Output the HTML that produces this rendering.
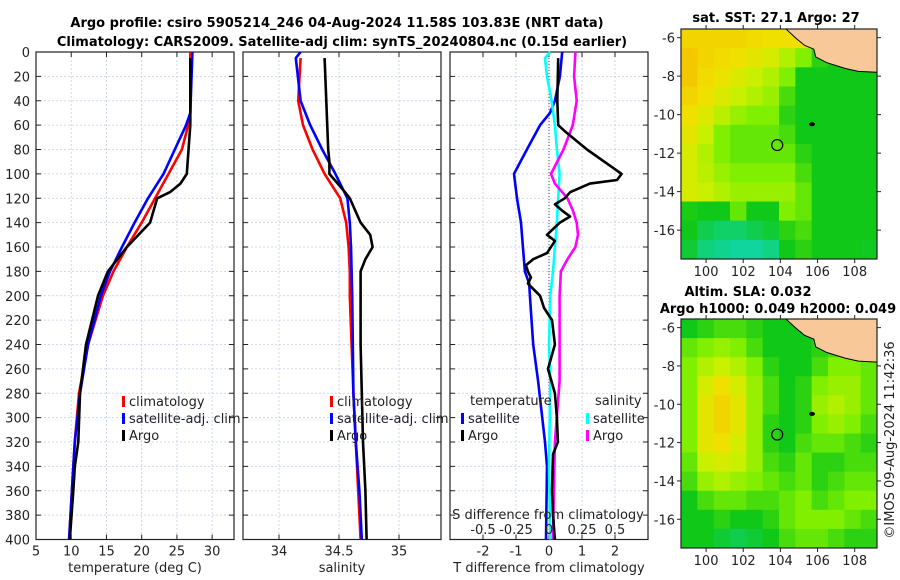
<!DOCTYPE html>
<html><head><meta charset="utf-8"><style>
body{margin:0;background:#fff;}
svg{display:block;font-family:"DejaVu Sans","Liberation Sans",sans-serif;}
.t{font-size:13px;fill:#222;}
.b{font-size:13px;font-weight:bold;fill:#000;}
</style></head><body>
<svg id="fig" width="900" height="580" viewBox="0 0 900 580">
<text class="b" x="337" y="27" text-anchor="middle">Argo profile: csiro 5905214_246 04-Aug-2024 11.58S 103.83E (NRT data)</text>
<text class="b" x="342" y="46" text-anchor="middle">Climatology: CARS2009. Satellite-adj clim: synTS_20240804.nc (0.15d earlier)</text>
<text class="b" x="776" y="22" text-anchor="middle">sat. SST: 27.1 Argo: 27</text>
<text class="b" x="748" y="296" text-anchor="middle">Altim. SLA: 0.032</text>
<text class="b" x="778" y="313" text-anchor="middle">Argo h1000: 0.049 h2000: 0.049</text>
<text class="t" transform="translate(894,440) rotate(-90)" text-anchor="middle">©IMOS 09-Aug-2024 11:42:36</text>
<g id="plots"></g>
</svg>
<script>
// ---- data ----
const depthTicks=[0,20,40,60,80,100,120,140,160,180,200,220,240,260,280,300,320,340,360,380,400];
const tTicks=[5,10,15,20,25,30];
const sTicks=[34,34.5,35];
const dtTicks=[-2,-1,0,1,2];
const dsTicks=[-0.5,-0.25,0,0.25,0.5];
const dsTickLabels=["-0.5","-0.25","0","0.25","0.5"];
const argoTD=[5,60,100,108,115,120,140,160,180,200,240,280,320,340,360,400];
const argoT=[26.9,26.9,26.4,25.5,24,22.2,21.2,17.9,15.2,13.8,12.1,11.25,11,10.5,10.3,9.8];
const climTD=[0,50,60,80,100,120,140,160,180,200,240,280,320,360,400];
const climT=[26.9,26.9,26.6,25.7,23.8,21.9,20,17.9,16,14.5,12.4,11.1,10.5,10.1,9.7];
const satT=[27.2,26.9,26.3,24.7,23.1,20.9,19,17.2,15.5,14.2,12.4,11.25,10.5,10.1,9.7];
const argoSD=[5,80,90,100,108,115,120,140,150,160,170,180,200,240,280,320,360,400];
const argoS=[34.38,34.41,34.42,34.42,34.49,34.55,34.59,34.68,34.76,34.78,34.72,34.68,34.68,34.68,34.69,34.7,34.72,34.73];
const climSD=[5,40,60,80,100,120,140,160,180,200,280,320,360,400];
const climS=[34.18,34.16,34.2,34.28,34.38,34.51,34.56,34.58,34.59,34.59,34.62,34.64,34.66,34.68];
const satSD=[0,5,40,60,80,100,120,140,160,200,280,320,360,400];
const satS=[34.18,34.14,34.18,34.26,34.36,34.47,34.57,34.59,34.6,34.61,34.62,34.64,34.67,34.69];
const dSatTD=[0,20,40,50,60,80,100,120,140,160,180,190,200,240,270,320,340,400];
const dSatT=[0.4,0.33,0.18,0.03,-0.27,-0.67,-1.06,-0.97,-0.85,-0.79,-0.73,-0.6,-0.58,-0.48,-0.33,-0.12,-0.06,-0.09];
const dArgoTD=[5,40,60,65,80,95,100,105,108,115,120,125,130,135,140,150,155,165,170,175,180,185,190,200,210,220,240,260,280,300,320,330,360,380,400];
const dArgoT=[0.28,0.25,0.28,0.48,1.15,1.94,2.2,2.06,1.24,0.64,0.48,0.18,0.39,0.64,0.33,-0.06,0.18,-0.06,-0.48,-0.7,-0.64,-0.55,-0.64,-0.27,-0.15,0.09,0.18,-0.03,0.18,0.24,0.27,0.12,0.09,0.12,0.18];
const dSatSD=[0,5,20,40,60,80,100,120,140,160,180,200,240,270,340,400];
const dSatS=[0.01,-0.03,-0.015,0.02,0.045,0.06,0.08,0.07,0.06,0.045,0.03,0.01,0,0.01,0,0.01];
const dArgoSD=[0,20,40,60,80,100,108,120,130,140,150,160,170,180,200,240,270,320,400];
const dArgoS=[0.2,0.19,0.21,0.18,0.11,0.015,0.045,0.14,0.18,0.21,0.22,0.2,0.14,0.09,0.08,0.08,0.08,0.045,0.03];
const lonTicks=[100,102,104,106,108];
const latTicks=[-6,-8,-10,-12,-14,-16];
const sstGrid=[
[.85,.85,.85,.85,.82,.8,.8,.8,.85,.85,.9,.9],
[.9,.85,.82,.8,.75,.7,.6,.5,.35,.3,.3,.3],
[.9,.82,.78,.72,.65,.6,.5,.3,.3,.3,.3,.3],
[.85,.8,.72,.65,.6,.55,.4,.3,.3,.3,.3,.3],
[.8,.72,.62,.55,.5,.5,.35,.3,.3,.3,.3,.3],
[.75,.65,.5,.45,.45,.45,.4,.3,.3,.3,.3,.3],
[.7,.6,.5,.45,.45,.45,.45,.35,.3,.3,.3,.3],
[.7,.62,.55,.5,.5,.5,.5,.4,.3,.3,.3,.3],
[.7,.65,.6,.55,.55,.55,.55,.45,.3,.3,.3,.3],
[.32,.3,.3,.45,.3,.3,.5,.45,.3,.3,.3,.3],
[.3,.2,.15,.15,.2,.25,.35,.4,.3,.3,.3,.3],
[.25,.12,.08,.05,.05,.1,.3,.35,.3,.3,.3,.28]];
const slaGrid=[
[.3,.35,.4,.4,.35,.3,.3,.3,.3,.3,.3,.3],
[.45,.5,.55,.5,.4,.3,.3,.3,.35,.4,.4,.35],
[.5,.6,.65,.6,.5,.35,.3,.3,.4,.5,.5,.45],
[.5,.7,.8,.7,.55,.4,.3,.35,.5,.55,.55,.45],
[.5,.75,.85,.75,.55,.4,.3,.35,.55,.6,.55,.45],
[.5,.75,.85,.75,.55,.35,.3,.35,.5,.55,.5,.4],
[.5,.75,.8,.7,.55,.35,.3,.4,.45,.45,.4,.35],
[.45,.65,.7,.65,.55,.4,.35,.45,.35,.35,.4,.4],
[.4,.55,.6,.55,.5,.45,.4,.45,.35,.4,.45,.45],
[.3,.4,.45,.45,.4,.4,.45,.5,.4,.45,.5,.5],
[.3,.3,.35,.3,.3,.35,.45,.5,.5,.5,.45,.4],
[.3,.3,.25,.2,.25,.3,.4,.45,.45,.4,.35,.35]];
const landLon=[104.3,104.8,105.3,105.8,105.9,106.5,107.5,108.2,109.2,109.2];
const landLat=[-5.55,-6.0,-6.4,-6.6,-7.0,-7.3,-7.6,-7.75,-7.8,-5.55];
const argoLon=103.83, argoLat=-11.58;
const islandLon=105.7, islandLat=-10.5;

// ---- drawing ----
const NS="http://www.w3.org/2000/svg";
const root=document.getElementById('plots');
function mk(tag,attrs,parent){const e=document.createElementNS(NS,tag);for(const k in attrs)e.setAttribute(k,attrs[k]);(parent||root).appendChild(e);return e;}
const Y0=52,Y1=539.5;
const yD=d=>Y0+d/400*(Y1-Y0);
function panel(name,x0,x1,xmin,xmax,ticks,labels,xlabel){
  const xs=v=>x0+(v-xmin)/(xmax-xmin)*(x1-x0);
  const g=mk('g',{});
  
  
  depthTicks.forEach(d=>{const l=mk('line',{x1:x0,x2:x1,y1:yD(d),y2:yD(d),stroke:'#c4cdea','stroke-width':0.8,'stroke-dasharray':'2,2'},g);
    
    mk('line',{x1:x0,x2:x0+5,y1:yD(d),y2:yD(d),stroke:'#222'},g);mk('line',{x1:x1-5,x2:x1,y1:yD(d),y2:yD(d),stroke:'#222'},g);});
  ticks.forEach((v,i)=>{const l=mk('line',{x1:xs(v),x2:xs(v),y1:Y0,y2:Y1,stroke:'#c4cdea','stroke-width':0.8,'stroke-dasharray':'2,2'},g);
    
    mk('line',{x1:xs(v),x2:xs(v),y1:Y1,y2:Y1-5,stroke:'#222'},g);mk('line',{x1:xs(v),x2:xs(v),y1:Y0,y2:Y0+5,stroke:'#222'},g);
    if(labels){const t=mk('text',{x:xs(v),y:Y1+16,'text-anchor':'middle',class:'t'},g);t.textContent=labels[i];
      }});
  const r=mk('rect',{x:x0,y:Y0,width:x1-x0,height:Y1-Y0,fill:'none',stroke:'#222','stroke-width':1.2},g);
  
  if(xlabel){const t=mk('text',{x:(x0+x1)/2,y:572,'text-anchor':'middle',class:'t'},g);t.textContent=xlabel;
    }
  return {xs,g};
}
function line(p,vals,depths,color,name,w){
  const pts=vals.map((v,i)=>p.xs(v).toFixed(1)+','+yD(depths[i]).toFixed(1)).join(' ');
  const e=mk('polyline',{points:pts,fill:'none',stroke:color,'stroke-width':w||2.6,'stroke-linejoin':'round'},p.g);
  
  
}
function legend(g,x,y,color,label,name){
  mk('rect',{x:x-2,y:y-9,width:3,height:11,fill:color},g);
  const t=mk('text',{x:x+5,y:y+1,class:'t'},g);t.textContent=label;
  
  
}
depthTicks.forEach(d=>{const t=mk('text',{x:30,y:yD(d)+5,'text-anchor':'end',class:'t'});t.textContent=d;
  });
const p1=panel('temperature-panel',36,234,5,33.1,tTicks,tTicks.map(String),'temperature (deg C)');
line(p1,climT,climTD,'#ff0000','climatology-temperature-line');
line(p1,satT,climTD,'#0000ff','satellite-temperature-line');
line(p1,argoT,argoTD,'#000000','argo-temperature-line');
legend(p1.g,124,405,'#ff0000','climatology','legend-climatology');
legend(p1.g,124,422,'#0000ff','satellite-adj. clim','legend-satellite-adj');
legend(p1.g,124,439,'#000000','Argo','legend-argo');
const p2=panel('salinity-panel',243,441,33.7,35.35,sTicks,sTicks.map(String),'salinity');
line(p2,climS,climSD,'#ff0000','climatology-salinity-line');
line(p2,satS,satSD,'#0000ff','satellite-salinity-line');
line(p2,argoS,argoSD,'#000000','argo-salinity-line');
legend(p2.g,332,405,'#ff0000','climatology','legend-climatology');
legend(p2.g,332,422,'#0000ff','satellite-adj. clim','legend-satellite-adj');
legend(p2.g,332,439,'#000000','Argo','legend-argo');
const p3=panel('difference-panel',450,648,-3,3,dtTicks,dtTicks.map(String),'T difference from climatology');
const p3s={xs:v=>549+v/0.75*99,g:p3.g};
const zl=mk('line',{x1:549,x2:549,y1:Y0,y2:Y1,stroke:'#445','stroke-width':1,'stroke-dasharray':'1,2'},p3.g);

line(p3,dSatT,dSatTD,'#0000ff','satellite-t-diff-line');
line(p3s,dSatS,dSatSD,'#00ffff','satellite-s-diff-line');
line(p3s,dArgoS,dArgoSD,'#ff00ff','argo-s-diff-line');
line(p3,dArgoT,dArgoTD,'#000000','argo-t-diff-line');
{const t=mk('text',{x:470,y:405,class:'t'},p3.g);t.textContent='temperature';
 const u=mk('text',{x:595,y:405,class:'t'},p3.g);u.textContent='salinity';}
legend(p3.g,463,422,'#0000ff','satellite','legend-t-satellite');
legend(p3.g,463,439,'#000000','Argo','legend-t-argo');
legend(p3.g,588,422,'#00ffff','satellite','legend-s-satellite');
legend(p3.g,588,439,'#ff00ff','Argo','legend-s-argo');
{const t=mk('text',{x:548,y:519,'text-anchor':'middle',class:'t'},p3.g);t.textContent='S difference from climatology';
 }
dsTicks.forEach((v,i)=>{const t=mk('text',{x:p3s.xs(v),y:534,'text-anchor':'middle',class:'t'},p3.g);t.textContent=dsTickLabels[i];
  });
const LON0=98.65,LON1=109.2,LAT0=-5.55,LAT1=-17.5;
function cmap(v){
  const stops=[[0,[16,216,184]],[0.3,[16,200,24]],[0.5,[128,240,0]],[0.65,[200,240,0]],[0.8,[240,224,0]],[1,[248,176,0]]];
  for(let i=1;i<stops.length;i++){if(v<=stops[i][0]){const a=stops[i-1],b=stops[i],f=(v-a[0])/(b[0]-a[0]);
    return 'rgb('+a[1].map((c,k)=>Math.round(c+(b[1][k]-c)*f)).join(',')+')';}}
  return 'rgb(248,176,0)';
}
function map(name,x0,x1,y0,y1,grid){
  const lx=v=>x0+(v-LON0)/(LON1-LON0)*(x1-x0), ly=v=>y0+(v-LAT0)/(LAT1-LAT0)*(y1-y0);
  const g=mk('g',{});
  
  
  const R=grid.length,C=grid[0].length,cw=(x1-x0)/C,ch=(y1-y0)/R;
  grid.forEach((row,r)=>row.forEach((v,c)=>{const e=mk('rect',{x:x0+c*cw,y:y0+r*ch,width:cw+0.5,height:ch+0.5,fill:cmap(v)},g);
    }));
  const land=mk('polygon',{points:landLon.map((v,i)=>lx(v)+','+ly(landLat[i])).join(' '),fill:'#f8c898',stroke:'#000','stroke-width':1},g);
  
  const isl=mk('ellipse',{cx:lx(islandLon),cy:ly(islandLat),rx:3,ry:2,fill:'#000'},g);
  
  const ap=mk('circle',{cx:lx(argoLon),cy:ly(argoLat),r:5.5,fill:'none',stroke:'#000','stroke-width':1.2},g);
  
  const fr=mk('rect',{x:x0,y:y0,width:x1-x0,height:y1-y0,fill:'none',stroke:'#222','stroke-width':1.2},g);
  
  lonTicks.forEach(v=>{mk('line',{x1:lx(v),x2:lx(v),y1:y1,y2:y1+4,stroke:'#222'},g);mk('line',{x1:lx(v),x2:lx(v),y1:y0,y2:y0-4,stroke:'#222'},g);
    const t=mk('text',{x:lx(v),y:y1+17,'text-anchor':'middle',class:'t'},g);t.textContent=v;
    });
  latTicks.forEach(v=>{mk('line',{x1:x0-4,x2:x0,y1:ly(v),y2:ly(v),stroke:'#222'},g);mk('line',{x1:x1,x2:x1+4,y1:ly(v),y2:ly(v),stroke:'#222'},g);
    const t=mk('text',{x:x0-6,y:ly(v)+5,'text-anchor':'end',class:'t'},g);t.textContent=v;
    });
}
map('sst-map',681,877,29,259,sstGrid);
map('sla-map',681,877,319,548,slaGrid);
</script>
</body></html>
